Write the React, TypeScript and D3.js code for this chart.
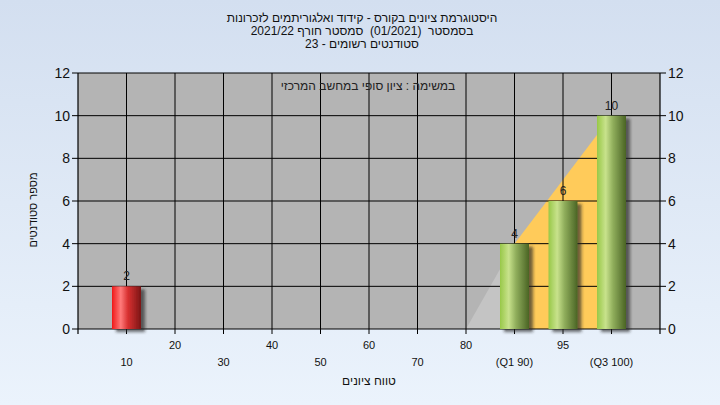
import React from "react";
import * as d3 from "d3";

const titleLines = [
  "היסטוגרמת ציונים בקורס - קידוד ואלגוריתמים לזכרונות",
  "בסמסטר  (01/2021)  סמסטר חורף 2021/22",
  "סטודנטים רשומים - 23",
];
const categories = ["10", "20", "30", "40", "50", "60", "70", "80", "(Q1 90)", "95", "(Q3 100)"];
const counts = [2, 0, 0, 0, 0, 0, 0, 0, 4, 6, 10];
const barColors = ["red", "", "", "", "", "", "", "", "green", "green", "green"];
const areaIdx = [7, 8, 10];
const areaVals = [0, 4, 10];
const yTicks = [0, 2, 4, 6, 8, 10, 12];
const yTitle = "מספר סטודנטים";
const xTitle = "טווח ציונים";
const note = "במשימה : ציון סופי במחשב המרכזי";

const W = 720, H = 405;
const L = 78, R = 660, T = 73, B = 329;

export default function App() {
  const x = d3.scaleLinear().domain([0, categories.length + 1]).range([L, R]);
  const y = d3.scaleLinear().domain([0, 12]).range([B, T]);
  const bw = 29;
  const font = "'Liberation Sans', Arial, sans-serif";
  const seg1 = [
    [x(areaIdx[0] + 1), y(0)],
    [x(areaIdx[0] + 1), y(areaVals[0])],
    [x(areaIdx[1] + 1), y(areaVals[1])],
    [x(areaIdx[1] + 1), y(0)],
  ];
  const seg2 = [
    [x(areaIdx[1] + 1), y(0)],
    [x(areaIdx[1] + 1), y(areaVals[1])],
    [x(areaIdx[2] + 1), y(areaVals[2])],
    [x(areaIdx[2] + 1), y(0)],
  ];
  const line = d3.line();
  return (
    <svg width={W} height={H} style={{ position: "absolute", left: 0, top: 0 }}>
      <defs>
        <linearGradient id="bg" x1="0" y1="0" x2="0" y2="1">
          <stop offset="0" stopColor="#d3dff0" />
          <stop offset="1" stopColor="#ebf3fc" />
        </linearGradient>
        <linearGradient id="red" x1="0" y1="0" x2="1" y2="0">
          <stop offset="0" stopColor="#f01818" />
          <stop offset="0.3" stopColor="#ff7a7a" />
          <stop offset="0.55" stopColor="#d83030" />
          <stop offset="1" stopColor="#7a1616" />
        </linearGradient>
        <linearGradient id="green" x1="0" y1="0" x2="1" y2="0">
          <stop offset="0" stopColor="#98c848" />
          <stop offset="0.3" stopColor="#c8e28c" />
          <stop offset="0.55" stopColor="#90ae5c" />
          <stop offset="1" stopColor="#4a6424" />
        </linearGradient>
        <filter id="sh" x="-30%" y="-30%" width="160%" height="160%">
          <feDropShadow dx="4" dy="3" stdDeviation="1.6" floodColor="#222" floodOpacity="0.65" />
        </filter>
      </defs>
      <rect x={0} y={0} width={W} height={H} fill="url(#bg)" />
      <rect x={L} y={T} width={R - L} height={B - T} fill="#b4b4b4" />
      <path d={line(seg1 as any) + "Z"} fill="#c4c4c4" />
      <path d={line(seg2 as any) + "Z"} fill="#ffcb5a" />
      {yTicks.map((t) => (
        <line key={"h" + t} x1={L} x2={R} y1={y(t)} y2={y(t)} stroke="#000" strokeWidth={1} />
      ))}
      {categories.map((c, i) => (
        <line key={"v" + i} x1={x(i + 1)} x2={x(i + 1)} y1={T} y2={B + 5} stroke="#000" strokeWidth={1} />
      ))}
      <line x1={L} x2={L} y1={T} y2={B + 5} stroke="#000" strokeWidth={1.2} />
      <line x1={R} x2={R} y1={T} y2={B + 5} stroke="#000" strokeWidth={1.2} />
      {yTicks.map((t) => (
        <g key={"yt" + t}>
          <line x1={L - 6} x2={L} y1={y(t)} y2={y(t)} stroke="#000" />
          <line x1={R} x2={R + 6} y1={y(t)} y2={y(t)} stroke="#000" />
          <text x={L - 8} y={y(t) + 5} textAnchor="end" fontSize={14} fontFamily={font} fill="#111">{t}</text>
          <text x={R + 8} y={y(t) + 5} textAnchor="start" fontSize={14} fontFamily={font} fill="#111">{t}</text>
        </g>
      ))}
      <text x={368} y={90} textAnchor="middle" fontSize={12} fontFamily={font} fill="#222" direction="rtl">{note}</text>
      {counts.map((v, i) =>
        v > 0 ? (
          <g key={"b" + i}>
            <rect x={x(i + 1) - bw / 2} y={y(v)} width={bw} height={y(0) - y(v)} fill={`url(#${barColors[i]})`} filter="url(#sh)" />
            <text x={x(i + 1)} y={y(v) - 6} textAnchor="middle" fontSize={12} fontFamily={font} fill="#222">{v}</text>
          </g>
        ) : null
      )}
      {categories.map((c, i) => (
        <text key={"xl" + i} x={x(i + 1)} y={i % 2 === 0 ? 366 : 349} textAnchor="middle" fontSize={11} fontFamily={font} fill="#111">{c}</text>
      ))}
      <text x={369} y={385} textAnchor="middle" fontSize={12} fontFamily={font} fill="#111" direction="rtl">{xTitle}</text>
      <text transform="translate(37,210) rotate(-90)" textAnchor="middle" fontSize={11} fontFamily={font} fill="#111" direction="rtl">{yTitle}</text>
      {titleLines.map((s, i) => (
        <text key={"t" + i} x={362} y={22 + i * 13} textAnchor="middle" fontSize={12} fontFamily={font} fill="#111" direction="rtl" style={{ whiteSpace: "pre" }}>{s}</text>
      ))}
    </svg>
  );
}
